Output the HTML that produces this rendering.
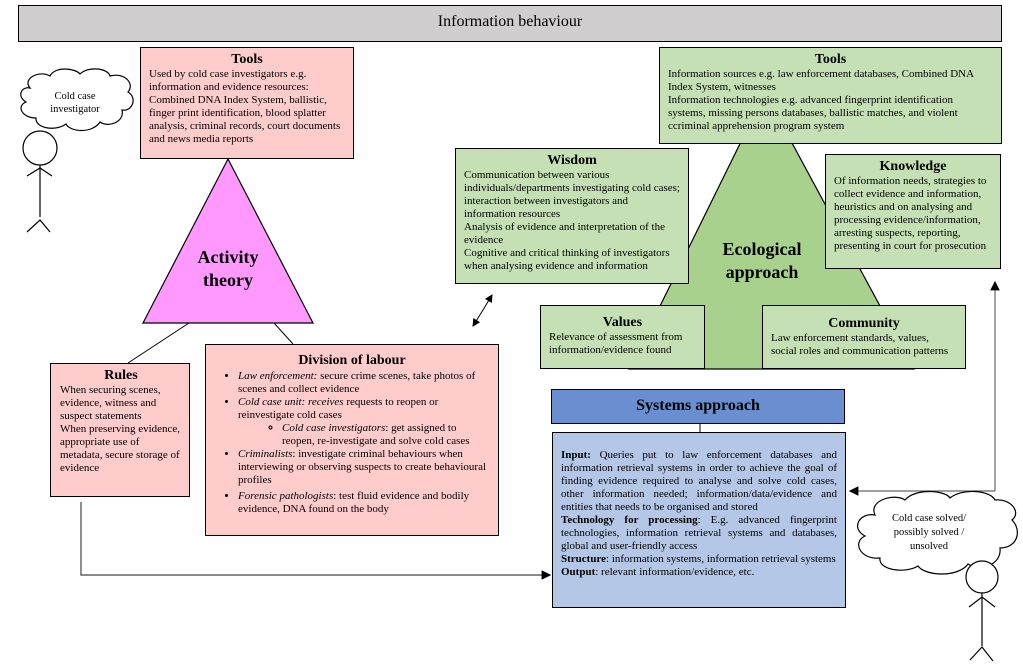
<!DOCTYPE html>
<html><head><meta charset="utf-8"><style>
*{margin:0;padding:0;box-sizing:border-box}
body{width:1023px;height:670px;background:#fff;position:relative;overflow:hidden;font-family:"Liberation Serif",serif;color:#000}
.b{position:absolute;border:1.3px solid #000;font-size:11px;line-height:13px;padding:4px 8px 3px 8px}
.t{font-weight:bold;text-align:center;font-size:14px;line-height:16px}
.pk{background:#ffcccc}.gr{background:#c5e0b4}
ul{margin:0;padding-left:24px}
li{margin:0}
svg{position:absolute;left:0;top:0}
</style></head><body>
<svg width="1023" height="670">
<defs><marker id="a" markerWidth="8" markerHeight="8" refX="7" refY="4" orient="auto"><path d="M0,0 L8,4 L0,8 z" fill="#000"/></marker></defs>
<polygon points="228,159 143,323 313,323" fill="#ff99ff" stroke="#000" stroke-width="1.2"/>
<polygon points="765,93 629,369 914,369" fill="#a9d18e" stroke="#000" stroke-width="1.2"/>
<line x1="189" y1="323" x2="128" y2="363" stroke="#000"/>
<line x1="274" y1="323" x2="293" y2="344" stroke="#000"/>
<polyline points="81,502 81,575 550,575" fill="none" stroke="#444" stroke-width="1.2" marker-end="url(#a)"/>
<line x1="483" y1="310" x2="492" y2="295" stroke="#000" marker-end="url(#a)"/>
<line x1="483" y1="310" x2="473" y2="326" stroke="#000" marker-end="url(#a)"/>
<polyline points="995,491 995,282" fill="none" stroke="#666" stroke-width="1.2" marker-end="url(#a)"/>
<polyline points="995,491 850,491" fill="none" stroke="#666" stroke-width="1.2" marker-end="url(#a)"/>
<line x1="700" y1="423" x2="700" y2="432" stroke="#000"/>
<path d="M30,88 C22,78 40,70 50,76 C55,66 75,68 80,74 C88,66 108,68 110,76 C125,72 135,84 128,92 C138,98 132,112 122,110 C125,122 108,128 100,122 C92,134 70,132 66,124 C55,132 35,128 36,118 C22,118 16,106 26,102 C16,96 22,86 30,88 Z" fill="#fff" stroke="#000" stroke-width="1.2"/>
<path d="M875,515 C868,500 895,493 905,500 C915,488 945,490 950,498 C962,488 990,490 995,500 C1010,498 1022,512 1012,520 C1022,530 1018,548 1000,548 C1002,565 980,572 968,564 C958,578 925,576 918,566 C905,574 878,570 880,558 C860,560 852,542 865,536 C850,528 860,512 875,515 Z" fill="#fff" stroke="#000" stroke-width="1.2"/>
<g stroke="#000" stroke-width="1.2" fill="#fff">
<circle cx="40" cy="148" r="17"/>
<line x1="40" y1="165" x2="40" y2="217"/>
<polyline points="27,176 40,168 52,176" fill="none"/>
<polyline points="27,232 40,220 50,232" fill="none"/>
<circle cx="982" cy="577" r="16"/>
<line x1="982" y1="593" x2="982" y2="646"/>
<polyline points="969,607 982,597 995,607" fill="none"/>
<polyline points="970,660 982,647 993,661" fill="none"/>
</g>
<text x="75" y="99" font-family="Liberation Serif" font-size="10.5" text-anchor="middle">Cold case</text>
<text x="75" y="112" font-family="Liberation Serif" font-size="10.5" text-anchor="middle">investigator</text>
<text x="929" y="521" font-family="Liberation Serif" font-size="10.5" text-anchor="middle">Cold case solved/</text>
<text x="929" y="535" font-family="Liberation Serif" font-size="10.5" text-anchor="middle">possibly solved /</text>
<text x="929" y="549" font-family="Liberation Serif" font-size="10.5" text-anchor="middle">unsolved</text>
<text x="228" y="263" font-family="Liberation Serif" font-size="18" font-weight="bold" text-anchor="middle">Activity</text>
<text x="228" y="286" font-family="Liberation Serif" font-size="18" font-weight="bold" text-anchor="middle">theory</text>
<text x="762" y="255" font-family="Liberation Serif" font-size="18" font-weight="bold" text-anchor="middle">Ecological</text>
<text x="762" y="278" font-family="Liberation Serif" font-size="18" font-weight="bold" text-anchor="middle">approach</text>
</svg>

<div class="b" style="left:18px;top:5px;width:984px;height:37px;background:#d0cece;font-size:16px;text-align:center;line-height:26px;padding:3px">Information behaviour</div>

<div class="b pk" style="left:140px;top:47px;width:214px;height:112px"><div class="t">Tools</div>Used by cold case investigators e.g. information and evidence resources: Combined DNA Index System, ballistic, finger print identification, blood splatter analysis, criminal records, court documents and news media reports</div>

<div class="b pk" style="left:50px;top:363px;width:140px;height:134px;padding:4px 7px 3px 9px"><div class="t">Rules</div>When securing scenes, evidence, witness and suspect statements<br>When preserving evidence, appropriate use of metadata, secure storage of evidence</div>

<div class="b pk" style="left:205px;top:344px;width:294px;height:192px;padding:8px 8px"><div class="t" style="margin-bottom:1px">Division of labour</div>
<ul>
<li><i>Law enforcement:</i> secure crime scenes, take photos of scenes and collect evidence</li>
<li><i>Cold case unit: receives</i> requests to reopen or reinvestigate cold cases
<ul style="list-style:circle;padding-left:44px"><li><i>Cold case investigators</i>: get assigned to reopen, re-investigate and solve cold cases</li></ul></li>
<li><i>Criminalists</i>: investigate criminal behaviours when interviewing or observing suspects to create behavioural profiles</li>
<li style="margin-top:3px"><i>Forensic pathologists</i>: test fluid evidence and bodily evidence, DNA found on the body</li>
</ul></div>

<div class="b gr" style="left:659px;top:47px;width:343px;height:97px"><div class="t">Tools</div>Information sources e.g. law enforcement databases, Combined DNA Index System, witnesses<br>Information technologies e.g. advanced fingerprint identification systems, missing persons databases, ballistic matches, and violent ccriminal apprehension program system</div>

<div class="b gr" style="left:455px;top:148px;width:234px;height:136px"><div class="t">Wisdom</div>Communication between various individuals/departments investigating cold cases; interaction between investigators and information resources<br>Analysis of evidence and interpretation of the evidence<br>Cognitive and critical thinking of investigators when analysing evidence and information</div>

<div class="b gr" style="left:825px;top:154px;width:176px;height:115px"><div class="t">Knowledge</div>Of information needs, strategies to collect evidence and information, heuristics and on analysing and processing evidence/information, arresting suspects, reporting, presenting in court for prosecution</div>

<div class="b gr" style="left:540px;top:305px;width:165px;height:64px"><div class="t" style="margin-top:5px">Values</div>Relevance of assessment from information/evidence found</div>

<div class="b gr" style="left:762px;top:305px;width:204px;height:64px"><div class="t" style="margin-top:6px">Community</div>Law enforcement standards, values, social roles and communication patterns</div>

<div class="b" style="left:551px;top:389px;width:294px;height:35px;background:#6a8fd0;font-size:16px;font-weight:bold;text-align:center;line-height:26px;padding:3px">Systems approach</div>

<div class="b" style="left:552px;top:432px;width:294px;height:176px;background:#b4c7e7;padding:16px 8px 0 8px;text-align:justify;line-height:13px"><b>Input:</b> Queries put to law enforcement databases and information retrieval systems in order to achieve the goal of finding evidence required to analyse and solve cold cases, other information needed; information/data/evidence and entities that needs to be organised and stored<br><b>Technology for processing</b>: E.g. advanced fingerprint technologies, information retrieval systems and databases, global and user-friendly access<br><b>Structure</b>: information systems, information retrieval systems<br><b>Output</b>: relevant information/evidence, etc.</div>
</body></html>
